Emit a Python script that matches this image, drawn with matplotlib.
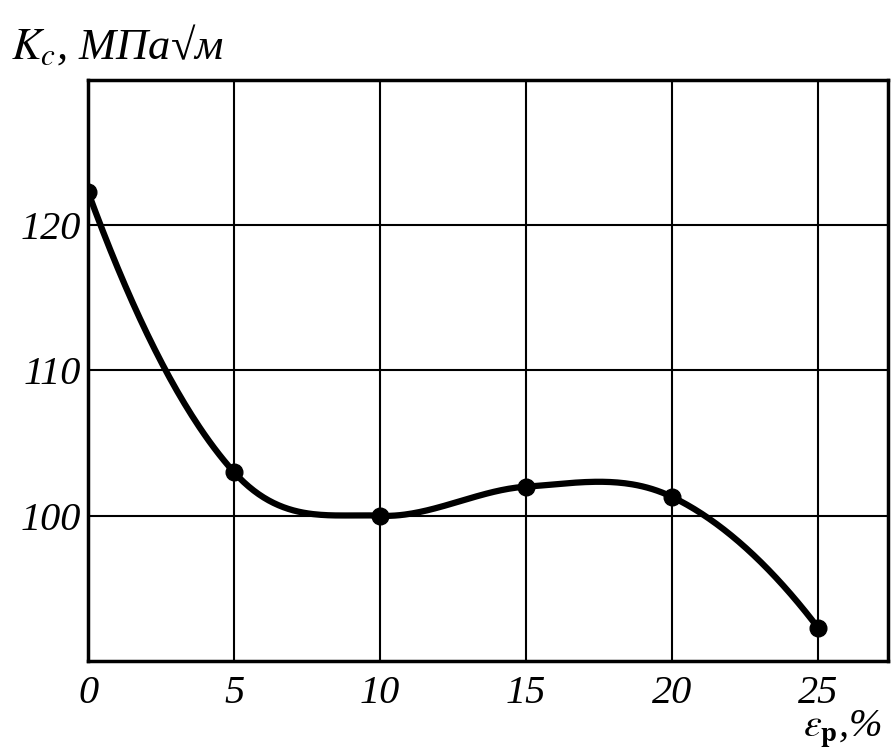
import numpy as np
import matplotlib.pyplot as plt

# data
strain = np.array([0, 5, 10, 15, 20, 25])
kc = np.array([122.3, 103.0, 100.0, 102.0, 101.3, 92.3])
x_ticks = [0, 5, 10, 15, 20, 25]
y_ticks = [100, 110, 120]


def smooth_line(x, y, n=60):
    # cardinal (Catmull-Rom like) Hermite curve, only for drawing the line
    x = x.astype(float)
    y = y.astype(float)
    d = np.zeros(len(x))
    d[1:-1] = (y[2:] - y[:-2]) / (x[2:] - x[:-2])
    d[0] = 2 * (y[1] - y[0]) / (x[1] - x[0]) - d[1]
    d[-1] = 2 * (y[-1] - y[-2]) / (x[-1] - x[-2]) - d[-2]
    xs_all, ys_all = [], []
    for i in range(len(x) - 1):
        h = x[i + 1] - x[i]
        t = np.linspace(0, 1, n)
        h00 = 2 * t**3 - 3 * t**2 + 1
        h10 = t**3 - 2 * t**2 + t
        h01 = -2 * t**3 + 3 * t**2
        h11 = t**3 - t**2
        xs_all.append(x[i] + t * h)
        ys_all.append(h00 * y[i] + h10 * h * d[i] + h01 * y[i + 1] + h11 * h * d[i + 1])
    return np.concatenate(xs_all), np.concatenate(ys_all)


serif = ['Liberation Serif', 'DejaVu Serif']

fig = plt.figure(figsize=(8.91, 7.56), dpi=100)
ax = fig.add_axes([0.0988, 0.1257, 0.8978, 0.7685])

xs, ys = smooth_line(strain, kc)
ax.plot(xs, ys, color='black', lw=4.5, solid_capstyle='round', zorder=3)
ax.plot(strain, kc, 'o', color='black', ms=12, zorder=4)

ax.set_xlim(0, 27.4)
ax.set_ylim(90, 130)
ax.set_xticks(x_ticks)
ax.set_yticks(y_ticks)
ax.grid(True, color='black', lw=1.5)
ax.tick_params(axis='y', length=0, pad=5)
ax.tick_params(axis='x', length=0, pad=10)
for s in ax.spines.values():
    s.set_linewidth(2.5)

for lab in ax.get_xticklabels() + ax.get_yticklabels():
    lab.set_family(serif)
    lab.set_style('italic')
    lab.set_fontsize(29)

fig.text(0.012, 0.94, r'$K_c$' + ', МПа√м', family=serif, style='italic',
         fontsize=32, va='center', ha='left', math_fontfamily='stix')
fig.text(0.99, 0.008, r'$\varepsilon_{\mathbf{p}}$' + ',%', family=serif, style='italic',
         fontsize=29, va='bottom', ha='right', math_fontfamily='stix')

fig.savefig('out.png', dpi=100)
